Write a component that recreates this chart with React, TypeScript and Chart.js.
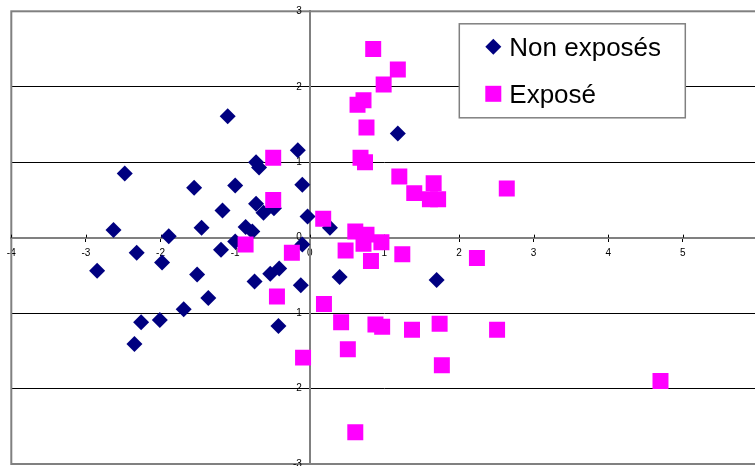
import React, { useEffect, useRef } from "react";
import { Chart, registerables } from "chart.js";

Chart.register(...registerables);

// ---- data ----
const seriesNames = ["Non exposés", "Exposé"];
const seriesColors = ["#000080", "#FF00FF"];

const nonExposesX = [
  -1.10, -0.16, -2.48, -0.72, -0.68, -1.55, -1.00, -0.10, -1.17, -0.72,
  -0.62, -0.48, -0.03, 0.27, -2.63, -1.45, -0.86, -0.77, -1.89, -1.00,
  -0.10, -2.32, -1.19, -1.98, -2.85, -1.51, -0.41, -0.53, -0.74, -0.12,
  -1.36, -1.69, -2.26, -2.01, -2.35, -0.42, 0.40, 1.70, 1.18,
];
const nonExposesY = [
  1.61, 1.16, 0.85, 1.00, 0.93, 0.66, 0.69, 0.70, 0.36, 0.45,
  0.33, 0.39, 0.28, 0.13, 0.10, 0.13, 0.14, 0.08, 0.02, -0.05,
  -0.09, -0.20, -0.16, -0.33, -0.44, -0.49, -0.41, -0.48, -0.58, -0.63,
  -0.80, -0.95, -1.12, -1.09, -1.41, -1.17, -0.52, -0.56, 1.38,
];

const exposeX = [
  0.85, 1.18, 0.99, 0.72, 0.64, 0.76, 0.68, 0.74, -0.49, 1.20,
  1.66, 1.40, 1.61, 1.72, -0.49, 2.64, 0.18, 0.61, 0.76, 0.72,
  0.96, 0.48, 0.82, 1.24, -0.86, -0.24, 2.24, -0.44, 0.19, 0.42,
  0.88, 0.97, 1.37, 1.74, 2.51, 0.51, -0.09, 1.77, 4.70, 0.61,
];
const exposeY = [
  2.50, 2.23, 2.03, 1.82, 1.76, 1.46, 1.06, 1.00, 1.06, 0.81,
  0.72, 0.59, 0.51, 0.51, 0.50, 0.65, 0.25, 0.08, 0.04, -0.08,
  -0.06, -0.17, -0.31, -0.22, -0.09, -0.20, -0.27, -0.78, -0.88, -1.12,
  -1.15, -1.18, -1.22, -1.14, -1.22, -1.48, -1.59, -1.69, -1.90, -2.58,
];

const xMin = -4;
const xMax = 6;
const yMin = -3;
const yMax = 3;
const tickStep = 1;

const FONT = '"Liberation Sans", Arial, Helvetica, sans-serif';

const toPoints = (xs: number[], ys: number[]) => xs.map((x, i) => ({ x, y: ys[i] }));

const framePlugin = {
  id: "plotFrame",
  beforeDatasetsDraw(chart: any) {
    const { ctx, chartArea: a } = chart;
    ctx.save();
    ctx.strokeStyle = "#808080";
    ctx.lineWidth = 2;
    ctx.strokeRect(a.left, a.top, a.right - a.left, a.bottom - a.top);
    const xs = chart.scales.x;
    const ys = chart.scales.y;
    const axisX = xs.getPixelForValue(0);
    const axisY = ys.getPixelForValue(0);
    // small tick marks above the x axis (Excel-style crossing ticks)
    ctx.strokeStyle = "#000000";
    ctx.lineWidth = 1;
    xs.ticks.forEach((t: any) => {
      const px = Math.round(xs.getPixelForValue(t.value)) + 0.5;
      ctx.beginPath();
      ctx.moveTo(px, axisY - 3);
      ctx.lineTo(px, axisY);
      ctx.stroke();
    });
    // y-axis tick labels, right-aligned just left of the crossing axis
    ctx.fillStyle = "#000000";
    ctx.font = `10px ${FONT}`;
    ctx.textAlign = "right";
    ctx.textBaseline = "middle";
    ys.ticks.forEach((t: any) => {
      ctx.fillText(t.label, axisX - 8, ys.getPixelForValue(t.value));
    });
    ctx.restore();
  },
};

const legendPlugin = {
  id: "boxLegend",
  afterDraw(chart: any) {
    const { ctx, chartArea: a } = chart;
    const bx = a.left + 448;
    const by = a.top + 12.5;
    const bw = 226;
    const bh = 94;
    ctx.save();
    ctx.fillStyle = "#ffffff";
    ctx.fillRect(bx, by, bw, bh);
    ctx.strokeStyle = "#808080";
    ctx.lineWidth = 1.5;
    ctx.strokeRect(bx, by, bw, bh);
    chart.data.datasets.forEach((ds: any, i: number) => {
      const cx = bx + 34;
      const cy = by + 23 + i * 47;
      ctx.fillStyle = ds.backgroundColor;
      ctx.beginPath();
      if (ds.pointStyle === "rectRot") {
        ctx.moveTo(cx - 8, cy);
        ctx.lineTo(cx, cy - 8);
        ctx.lineTo(cx + 8, cy);
        ctx.lineTo(cx, cy + 8);
        ctx.closePath();
      } else {
        ctx.rect(cx - 8, cy - 8, 16, 16);
      }
      ctx.fill();
      ctx.fillStyle = "#000000";
      ctx.font = `26px ${FONT}`;
      ctx.textAlign = "left";
      ctx.textBaseline = "alphabetic";
      ctx.fillText(ds.label, bx + 50, by + 32 + i * 47);
    });
    ctx.restore();
  },
};

const zeroPad = (scale: any) => {
  scale.paddingTop = 0;
  scale.paddingBottom = 0;
  scale.paddingLeft = 0;
  scale.paddingRight = 0;
};

export default function App() {
  const canvasRef = useRef<HTMLCanvasElement | null>(null);

  useEffect(() => {
    if (!canvasRef.current) return;
    const chart = new Chart(canvasRef.current, {
      type: "scatter",
      data: {
        datasets: [
          {
            label: seriesNames[0],
            data: toPoints(nonExposesX, nonExposesY),
            backgroundColor: seriesColors[0],
            borderColor: seriesColors[0],
            borderWidth: 0,
            pointStyle: "rectRot",
            pointRadius: 8,
            pointHoverRadius: 8,
            order: 1,
          },
          {
            label: seriesNames[1],
            data: toPoints(exposeX, exposeY),
            backgroundColor: seriesColors[1],
            borderColor: seriesColors[1],
            borderWidth: 0,
            pointStyle: "rect",
            pointRadius: 11.3,
            pointHoverRadius: 11.3,
            order: 0,
          },
        ],
      },
      options: {
        animation: false,
        responsive: false,
        devicePixelRatio: 1,
        layout: { padding: { left: 8, top: 10.5, right: 17.5, bottom: 16 } },
        plugins: {
          legend: { display: false },
          tooltip: { enabled: false },
        },
        scales: {
          x: {
            type: "linear",
            min: xMin,
            max: xMax,
            position: { y: 0 } as any,
            afterFit: zeroPad,
            ticks: {
              stepSize: tickStep,
              color: "#000",
              padding: 7,
              font: { size: 10, family: FONT },
              maxRotation: 0,
              autoSkip: false,
            },
            grid: {
              drawOnChartArea: false,
              drawTicks: true,
              tickLength: 3,
              tickColor: "#000",
              color: "#000",
            },
            border: { display: true, color: "#808080", width: 2 },
          },
          y: {
            type: "linear",
            min: yMin,
            max: yMax,
            position: { x: 0 } as any,
            afterFit: zeroPad,
            ticks: {
              stepSize: tickStep,
              display: false,
              autoSkip: false,
            },
            grid: {
              drawOnChartArea: true,
              drawTicks: true,
              tickLength: 4,
              tickColor: "#000",
              color: (c: any) => (c.tick && c.tick.value === 0 ? "rgba(0,0,0,0)" : "#000"),
              lineWidth: 1,
            },
            border: { display: true, color: "#808080", width: 2 },
          },
        },
      },
      plugins: [framePlugin, legendPlugin],
    });
    return () => chart.destroy();
  }, []);

  return (
    <div
      style={{
        position: "fixed",
        left: 0,
        top: 0,
        width: 755,
        height: 466,
        overflow: "hidden",
        background: "#ffffff",
      }}
    >
      <canvas
        ref={canvasRef}
        width={775}
        height={480}
        style={{ width: 775, height: 480, display: "block" }}
      />
    </div>
  );
}
